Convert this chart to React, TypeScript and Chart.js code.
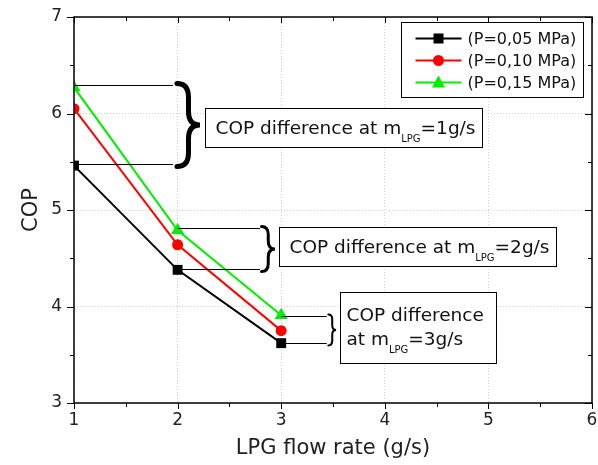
import React, { useEffect, useRef } from "react";
import { Chart, registerables } from "chart.js";

Chart.register(...registerables);

const flowRates = [1, 2, 3];
const cop005 = [5.46, 4.38, 3.62];
const cop010 = [6.05, 4.64, 3.75];
const cop015 = [6.27, 4.79, 3.91];
const seriesLabels = ["(P=0,05 MPa)", "(P=0,10 MPa)", "(P=0,15 MPa)"];
const seriesColors = ["#000000", "#ff0000", "#00ee00"];
const seriesStyles = ["rect", "circle", "triangle"];
const xTicks = [1, 2, 3, 4, 5, 6];
const yTicks = [3, 4, 5, 6, 7];
const diffLow = [5.48, 4.385, 3.625];
const diffHigh = [6.30, 4.81, 3.90];
const diffLabels = ["1g/s", "2g/s", "3g/s"];

const FONT = "'DejaVu Sans', sans-serif";

function brace(ctx: CanvasRenderingContext2D, xl: number, xr: number, y0: number, y1: number, lw: number) {
  const xm = xl + (xr - xl) * 0.5;
  const ym = (y0 + y1) / 2;
  const r = Math.min((xr - xl) * 0.6, (y1 - y0) / 4);
  ctx.save();
  ctx.strokeStyle = "#000";
  ctx.lineWidth = lw;
  ctx.lineCap = "round";
  ctx.beginPath();
  ctx.moveTo(xl, y0);
  ctx.quadraticCurveTo(xm, y0, xm, y0 + r);
  ctx.lineTo(xm, ym - r);
  ctx.quadraticCurveTo(xm, ym, xr, ym);
  ctx.quadraticCurveTo(xm, ym, xm, ym + r);
  ctx.lineTo(xm, y1 - r);
  ctx.quadraticCurveTo(xm, y1, xl, y1);
  ctx.stroke();
  ctx.restore();
}

function drawLabel(ctx: CanvasRenderingContext2D, x: number, y: number, pre: string, suf: string, size: number) {
  ctx.font = `${size}px ${FONT}`;
  ctx.textBaseline = "alphabetic";
  ctx.textAlign = "left";
  ctx.fillStyle = "#111";
  ctx.fillText(pre, x, y);
  let cx = x + ctx.measureText(pre).width;
  ctx.font = `${Math.round(size * 0.55)}px ${FONT}`;
  ctx.fillText("LPG", cx, y + 8);
  cx += ctx.measureText("LPG").width;
  ctx.font = `${size}px ${FONT}`;
  ctx.fillText(suf, cx, y);
}

const customPlugin = {
  id: "custom",
  afterDraw(chart: any) {
    const ctx: CanvasRenderingContext2D = chart.ctx;
    const xs = chart.scales.x;
    const ys = chart.scales.y;
    const { left, right, top, bottom } = chart.chartArea;
    ctx.save();
    ctx.strokeStyle = "#000";
    ctx.lineWidth = 1.5;
    ctx.strokeRect(left, top, right - left, bottom - top);
    ctx.lineWidth = 1;
    ctx.beginPath();
    for (let v = 1; v <= 6.001; v += 0.5) {
      const px = Math.round(xs.getPixelForValue(v)) + 0.5;
      const major = Math.abs(v - Math.round(v)) < 1e-6;
      const L = major ? 6 : 4;
      ctx.moveTo(px, bottom);
      ctx.lineTo(px, bottom + L);
      ctx.moveTo(px, top);
      ctx.lineTo(px, top + L);
    }
    for (let v = 3; v <= 7.001; v += 0.5) {
      const py = Math.round(ys.getPixelForValue(v)) + 0.5;
      const major = Math.abs(v - Math.round(v)) < 1e-6;
      const L = major ? 7 : 4;
      ctx.moveTo(left, py);
      ctx.lineTo(left - L, py);
      ctx.moveTo(right, py);
      ctx.lineTo(right - L, py);
    }
    ctx.stroke();

    const ext = [
      { lineEnd: 1.956, bl: 1.994, br: 2.216, bw: 5, box: [2.264, 4.935, 6.06, 5.65], size: 18.5 },
      { lineEnd: 2.795, bl: 2.81, br: 2.94, bw: 3, box: [2.98, 5.65, 4.82, 4.42], size: 18.5 },
      { lineEnd: 3.44, bl: 3.455, br: 3.53, bw: 2, box: [3.567, 5.073, 4.15, 3.415], size: 18.5 },
    ];
    for (let i = 0; i < 3; i++) {
      const e = ext[i];
      const x0 = xs.getPixelForValue(flowRates[i]);
      const x1 = xs.getPixelForValue(e.lineEnd);
      const yh = Math.round(ys.getPixelForValue(diffHigh[i])) + 0.5;
      const yl = Math.round(ys.getPixelForValue(diffLow[i])) + 0.5;
      ctx.strokeStyle = "#000";
      ctx.lineWidth = 1;
      ctx.beginPath();
      ctx.moveTo(x0, yh);
      ctx.lineTo(x1, yh);
      ctx.moveTo(x0, yl);
      ctx.lineTo(x1, yl);
      ctx.stroke();
      brace(ctx, xs.getPixelForValue(e.bl), xs.getPixelForValue(e.br), yh - 2, yl + 2, e.bw);
      const bx0 = Math.round(xs.getPixelForValue(e.box[0])) + 0.5;
      const bx1 = Math.round(xs.getPixelForValue(e.box[1])) + 0.5;
      const by0 = Math.round(ys.getPixelForValue(e.box[2])) + 0.5;
      const by1 = Math.round(ys.getPixelForValue(e.box[3])) + 0.5;
      ctx.fillStyle = "#fff";
      ctx.fillRect(bx0, by0, bx1 - bx0, by1 - by0);
      ctx.lineWidth = 1;
      ctx.strokeRect(bx0, by0, bx1 - bx0, by1 - by0);
      if (i < 2) {
        drawLabel(ctx, bx0 + 10, (by0 + by1) / 2 + 6, "COP difference at m", "=" + diffLabels[i], e.size);
      } else {
        ctx.font = `${e.size}px ${FONT}`;
        ctx.fillStyle = "#111";
        ctx.textAlign = "left";
        ctx.textBaseline = "alphabetic";
        ctx.fillText("COP difference", bx0 + 6, by0 + 28);
        drawLabel(ctx, bx0 + 6, by0 + 52, "at m", "=" + diffLabels[i], e.size);
      }
    }

    // legend
    const lx = Math.round(xs.getPixelForValue(4.155)) + 0.5;
    const lx1 = Math.round(xs.getPixelForValue(5.91)) + 0.5;
    const ly = Math.round(ys.getPixelForValue(6.945)) + 0.5;
    const ly1 = Math.round(ys.getPixelForValue(6.17)) + 0.5;
    ctx.fillStyle = "#fff";
    ctx.fillRect(lx, ly, lx1 - lx, ly1 - ly);
    ctx.strokeStyle = "#000";
    ctx.lineWidth = 1;
    ctx.strokeRect(lx, ly, lx1 - lx, ly1 - ly);
    const ds = chart.data.datasets;
    for (let i = 0; i < ds.length; i++) {
      const cy = ly + 16 + i * 22;
      ctx.strokeStyle = seriesColors[i];
      ctx.lineWidth = 2;
      ctx.beginPath();
      ctx.moveTo(lx + 14, cy);
      ctx.lineTo(lx + 60, cy);
      ctx.stroke();
      ctx.fillStyle = seriesColors[i];
      ctx.beginPath();
      const mx = lx + 37;
      if (i === 0) {
        ctx.fillRect(mx - 5, cy - 5, 10, 10);
      } else if (i === 1) {
        ctx.arc(mx, cy, 5.5, 0, Math.PI * 2);
        ctx.fill();
      } else {
        ctx.moveTo(mx, cy - 7);
        ctx.lineTo(mx + 6.5, cy + 5);
        ctx.lineTo(mx - 6.5, cy + 5);
        ctx.closePath();
        ctx.fill();
      }
      ctx.fillStyle = "#111";
      ctx.font = `16px ${FONT}`;
      ctx.textAlign = "left";
      ctx.textBaseline = "middle";
      ctx.fillText(ds[i].label, lx + 66, cy + 1);
    }
    ctx.restore();
  },
};

export default function App() {
  const ref = useRef<HTMLCanvasElement | null>(null);
  useEffect(() => {
    if (!ref.current) return;
    const mk = (vals: number[], i: number) => ({
      label: seriesLabels[i],
      data: flowRates.map((x, k) => ({ x, y: vals[k] })),
      borderColor: seriesColors[i],
      backgroundColor: seriesColors[i],
      borderWidth: 2,
      pointStyle: seriesStyles[i],
      pointRadius: i === 0 ? 7 : i === 1 ? 5.5 : 7.5,
      pointBorderWidth: 0,
      tension: 0,
    });
    const chart = new Chart(ref.current, {
      type: "line",
      data: {
        datasets: [mk(cop005, 0), mk(cop010, 1), mk(cop015, 2)],
      },
      options: {
        responsive: false,
        animation: false,
        layout: { autoPadding: false, padding: { top: 17, right: 6, left: 0, bottom: 0 } },
        plugins: { legend: { display: false }, tooltip: { enabled: false } },
        scales: {
          x: {
            type: "linear",
            min: 1,
            max: 6,
            afterFit: (s: any) => { s.height = 62; s.paddingRight = 0; },
            afterBuildTicks: (s: any) => { s.ticks = xTicks.map((v) => ({ value: v })); },
            grid: { color: "#cfcfcf", lineWidth: 1, drawTicks: false },
            border: { display: false, dash: [1, 2] },
            ticks: { color: "#222", font: { family: FONT, size: 17 }, padding: 7 },
            title: { display: true, text: "LPG flow rate (g/s)", color: "#222", font: { family: FONT, size: 21 }, padding: { top: 2 } },
          },
          y: {
            type: "linear",
            min: 3,
            max: 7,
            afterFit: (s: any) => { s.width = 74; s.paddingTop = 0; },
            afterBuildTicks: (s: any) => { s.ticks = yTicks.map((v) => ({ value: v })); },
            grid: { color: "#cfcfcf", lineWidth: 1, drawTicks: false },
            border: { display: false, dash: [1, 2] },
            ticks: { color: "#222", font: { family: FONT, size: 17 }, padding: 12 },
            title: { display: true, text: "COP", color: "#222", font: { family: FONT, size: 21 }, padding: { top: 19, bottom: 2 } },
          },
        },
      },
      plugins: [customPlugin],
    } as any);
    return () => chart.destroy();
  }, []);
  return (
    <div style={{ position: "fixed", left: 0, top: 0, width: 598, height: 465, background: "#fff" }}>
      <canvas ref={ref} width={598} height={465} style={{ width: 598, height: 465 }} />
    </div>
  );
}
